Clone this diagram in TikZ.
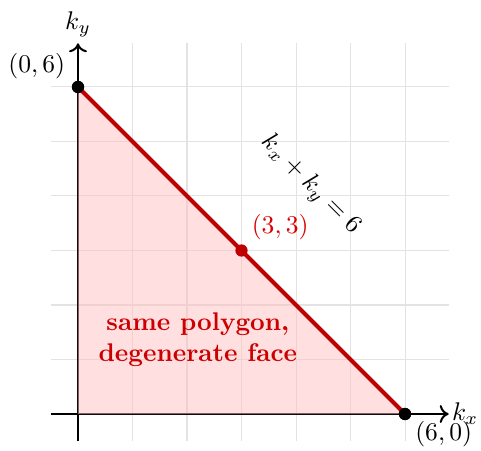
\documentclass[tikz,border=0pt]{standalone}
\usetikzlibrary{arrows.meta}
\begin{document}
\begin{tikzpicture}[x=0.75cm,y=0.75cm,
  gridline/.style={gray!22,line width=0.4pt},
  axis/.style={thick,-{To[length=3.5pt,width=7pt]}},
  edge/.style={red!75!black,line width=1.6pt},
  dot/.style={circle,fill=black,inner sep=0pt,minimum size=4.8pt},
  reddot/.style={circle,fill=red!75!black,inner sep=0pt,minimum size=4.8pt}]
\useasboundingbox (-1.431,-0.661) rectangle (7.394,7.596);
\draw[gridline,step=0.75cm] (-0.5,-0.5) grid (6.8,6.8);
\draw[axis] (-0.5,0) -- (6.8,0) node[right,inner sep=1pt] (kx) {$k_x$};
\draw[axis] (0,-0.5) -- (0,6.8) node[above,inner sep=2pt] (ky) {$k_y$};
\fill[red!25,fill opacity=0.5] (0,0) -- (6,0) -- (0,6) -- cycle;
\node[dot] (A) at (0,6) {};
\node[dot] (B) at (6,0) {};
\node[reddot] (M) at (3,3) {};
\draw[edge] (A.center) -- (M.center) -- (B.center);
\node[dot] at (0,6) {};
\node[dot] at (6,0) {};
\node[above left,inner sep=1pt,xshift=-2pt] (Alab) at (A.north west) {$(0,6)$};
\node[below right,inner sep=1pt,xshift=1pt] (Blab) at (B.south east) {$(6,0)$};
\node[above right,text=red!85!black,inner sep=2pt] (Mlab) at (M.north east) {$(3,3)$};
\node[rotate=-45] (eq) at (4.26,4.2) {$k_x+k_y=6$};
\node[align=center,text=red!80!black,font=\bfseries] (txt) at (2.2,1.36) {same polygon,\\degenerate face};
\end{tikzpicture}
\end{document}
